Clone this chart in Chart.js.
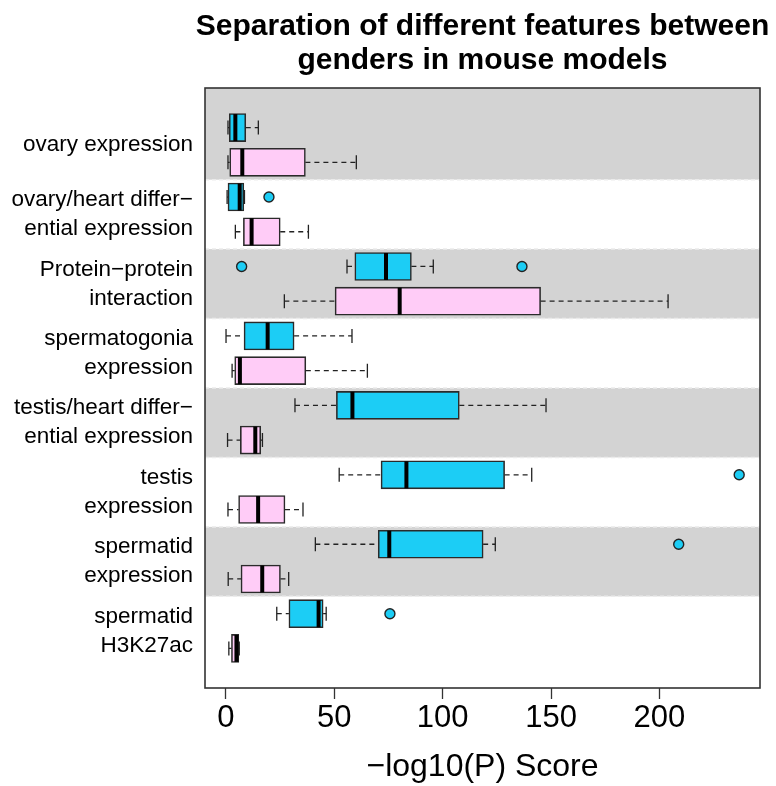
<!DOCTYPE html>
<html>
<head>
<meta charset="utf-8">
<script src="https://cdn.jsdelivr.net/npm/chart.js@4.4.1/dist/chart.umd.min.js"></script>
<style>
  html, body { margin: 0; padding: 0; background: #fff; }
  #wrap { width: 776px; height: 786px; }
</style>
</head>
<body>
<div id="wrap"><canvas id="chart" width="776" height="786"></canvas></div>
<script>
const titleLines = ["Separation of different features between", "genders in mouse models"];
const categories = [
  ["ovary expression"],
  ["ovary/heart differ\u2212", "ential expression"],
  ["Protein\u2212protein", "interaction"],
  ["spermatogonia", "expression"],
  ["testis/heart differ\u2212", "ential expression"],
  ["testis", "expression"],
  ["spermatid", "expression"],
  ["spermatid", "H3K27ac"]
];
// [lower whisker, q1, median, q3, upper whisker]
const maleBoxes = [
  [1.0, 1.6, 4.4, 9.2, 15.0],
  [0.6, 1.0, 6.4, 8.3, 8.6],
  [55.9, 59.5, 73.9, 85.6, 95.7],
  [0.1, 8.4, 19.3, 31.5, 58.2],
  [31.9, 51.0, 58.4, 107.7, 147.7],
  [52.3, 71.6, 83.3, 128.6, 141.1],
  [41.3, 70.3, 75.4, 118.7, 124.3],
  [23.5, 29.1, 42.8, 44.9, 46.3]
];
const femaleBoxes = [
  [1.0, 1.8, 7.6, 36.7, 60.2],
  [4.4, 8.1, 11.9, 25.1, 38.1],
  [27.0, 50.4, 80.2, 145.2, 204.0],
  [2.9, 4.1, 6.5, 36.9, 65.3],
  [0.8, 6.7, 13.6, 16.1, 16.9],
  [1.0, 5.9, 14.9, 27.3, 35.6],
  [1.1, 7.0, 16.8, 25.2, 29.0],
  [1.4, 2.6, 4.9, 6.0, 6.2]
];
// [category index, value]
const maleOutliers = [[1, 19.9], [2, 7.3], [2, 136.6], [5, 236.8], [6, 208.9], [7, 75.7]];
const xTicks = [0, 50, 100, 150, 200];

const BLUE = "#1ccdf5";
const PINK = "#ffccf7";
const FONT = '"Liberation Sans", Arial, Helvetica, sans-serif';

const malePos = categories.map((c, i) => 16 - 2 * i);
const femalePos = categories.map((c, i) => 15 - 2 * i);

const bandPlugin = {
  id: "bands",
  beforeDatasetsDraw(chart) {
    const { ctx, chartArea: a, scales: { y } } = chart;
    ctx.save();
    ctx.fillStyle = "#d3d3d3";
    categories.forEach((c, i) => {
      if (i % 2) return;
      const top = i === 0 ? a.top : y.getPixelForValue(16.5 - 2 * i);
      const bottom = y.getPixelForValue(14.5 - 2 * i);
      ctx.fillRect(a.left, top, a.right - a.left, bottom - top);
    });
    ctx.strokeStyle = "#ebebeb";
    ctx.lineWidth = 1.5;
    ctx.setLineDash([4, 3]);
    for (let i = 1; i < categories.length; i++) {
      const yy = y.getPixelForValue(16.5 - 2 * i);
      ctx.beginPath();
      ctx.moveTo(a.left, yy);
      ctx.lineTo(a.right, yy);
      ctx.stroke();
    }
    ctx.setLineDash([]);
    ctx.strokeStyle = "#333";
    ctx.lineWidth = 1.6;
    ctx.strokeRect(a.left, a.top, a.right - a.left, a.bottom - a.top);
    ctx.restore();
  }
};

const whiskerPlugin = {
  id: "whiskers",
  afterDatasetsDraw(chart) {
    const { ctx, scales: { x } } = chart;
    ctx.save();
    chart.data.datasets.forEach((ds, di) => {
      if (!ds.stats) return;
      const meta = chart.getDatasetMeta(di);
      ds.stats.forEach((s, i) => {
        const bar = meta.data[i];
        const py = bar.y;
        const h = bar.height;
        const [lo, q1, med, q3, hi] = s.map(v => x.getPixelForValue(v));
        ctx.strokeStyle = "#222";
        ctx.lineWidth = 1.3;
        ctx.setLineDash([5, 4]);
        ctx.beginPath();
        ctx.moveTo(lo, py); ctx.lineTo(q1, py);
        ctx.moveTo(q3, py); ctx.lineTo(hi, py);
        ctx.stroke();
        ctx.setLineDash([]);
        ctx.beginPath();
        ctx.moveTo(lo, py - h / 4); ctx.lineTo(lo, py + h / 4);
        ctx.moveTo(hi, py - h / 4); ctx.lineTo(hi, py + h / 4);
        ctx.stroke();
        ctx.strokeStyle = "#000";
        ctx.lineWidth = 4;
        ctx.beginPath();
        ctx.moveTo(med, py - h / 2 + 0.5); ctx.lineTo(med, py + h / 2 - 0.5);
        ctx.stroke();
      });
    });
    ctx.restore();
  }
};

const titlePlugin = {
  id: "mainTitle",
  afterDraw(chart) {
    const { ctx, chartArea: a } = chart;
    ctx.save();
    ctx.font = "bold 30px " + FONT;
    ctx.fillStyle = "#000";
    ctx.textAlign = "center";
    ctx.textBaseline = "alphabetic";
    const cx = (a.left + a.right) / 2;
    titleLines.forEach((t, k) => ctx.fillText(t, cx, 35 + 34 * k));
    ctx.restore();
  }
};

new Chart(document.getElementById("chart"), {
  type: "bar",
  data: {
    datasets: [
      {
        label: "male",
        data: maleBoxes.map((b, i) => ({ x: [b[1], b[3]], y: malePos[i] })),
        stats: maleBoxes,
        backgroundColor: BLUE,
        borderColor: "#2a2a2a",
        borderWidth: 1.6,
        borderSkipped: false,
        grouped: false,
        barThickness: 28
      },
      {
        label: "female",
        data: femaleBoxes.map((b, i) => ({ x: [b[1], b[3]], y: femalePos[i] })),
        stats: femaleBoxes,
        backgroundColor: PINK,
        borderColor: "#2a2a2a",
        borderWidth: 1.6,
        borderSkipped: false,
        grouped: false,
        barThickness: 28
      },
      {
        type: "scatter",
        label: "outliers",
        data: maleOutliers.map(([c, v]) => ({ x: v, y: malePos[c] })),
        pointRadius: 5,
        pointBackgroundColor: BLUE,
        pointBorderColor: "#222",
        pointBorderWidth: 1.4
      }
    ]
  },
  options: {
    indexAxis: "y",
    responsive: false,
    animation: false,
    layout: { padding: { top: 88, right: 16, left: 0, bottom: 0 } },
    plugins: { legend: { display: false }, tooltip: { enabled: false }, title: { display: false } },
    scales: {
      x: {
        type: "linear",
        min: -9.6,
        max: 246.4,
        offset: false,
        afterBuildTicks: s => { s.ticks = xTicks.map(v => ({ value: v })); },
        afterFit: s => { s.height = 98; },
        ticks: { font: { family: FONT, size: 31 }, color: "#000", padding: 1, maxRotation: 0, autoSkip: false },
        grid: { drawOnChartArea: false, drawTicks: true, tickLength: 11, tickColor: "#333", tickWidth: 1.3, offset: false },
        border: { display: false },
        title: { display: true, text: "\u2212log10(P) Score", font: { family: FONT, size: 32 }, color: "#000", padding: 0 }
      },
      y: {
        type: "linear",
        min: -0.14,
        max: 17.14,
        offset: false,
        afterBuildTicks: s => { s.ticks = categories.map((c, i) => ({ value: 15.5 - 2 * i })); },
        afterFit: s => { s.width = 205; },
        ticks: {
          callback: v => categories[Math.round((15.5 - v) / 2)],
          font: { family: FONT, size: 22.5, lineHeight: "29px" },
          color: "#000",
          padding: 12,
          autoSkip: false
        },
        grid: { display: false, drawTicks: false, offset: false },
        border: { display: false }
      }
    }
  },
  plugins: [bandPlugin, whiskerPlugin, titlePlugin]
});
</script>
</body>
</html>
